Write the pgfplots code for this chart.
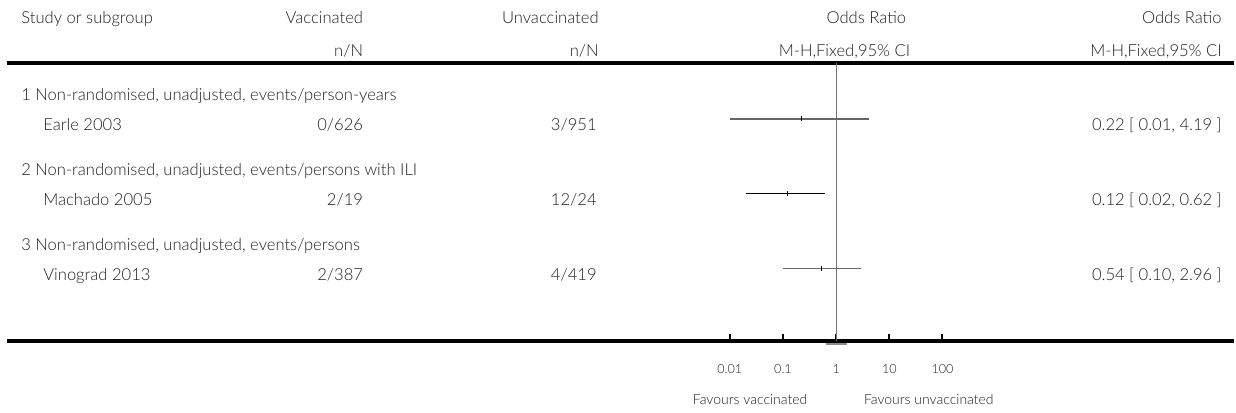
\documentclass[border=0pt]{standalone}
\usepackage{pgfplots}
\pgfplotsset{compat=1.18}
\usepackage{fontspec}
\setmainfont{Lato Light}
\newcommand\mainsz{\fontsize{8.3pt}{10pt}\selectfont}
\newcommand\ticksz{\fontsize{6.3pt}{8pt}\selectfont}
\newcommand\favsz{\fontsize{7pt}{8pt}\selectfont}
\definecolor{txt}{gray}{0.12}
\begin{document}
\begin{tikzpicture}
\begin{axis}[name=canvas, at={(0,0)}, anchor=south west,
  width=618pt, height=206.5pt, scale only axis,
  xmin=0, xmax=1236, ymin=0, ymax=413, y dir=reverse,
  hide axis, clip=false]
  \path (axis cs:0,0) rectangle (axis cs:1236,413);
  \addplot[black, line width=2pt] coordinates {(7,63) (1236,63)};
  \addplot[black, line width=2pt] coordinates {(7,342) (1236,342)};
  \addplot[black!45, line width=0.6pt] coordinates {(827,344.6) (848,344.6)};
  % headers
  \begin{scope}[every node/.style={font=\mainsz, text=txt, inner sep=0pt}]
  \node[anchor=base west] at (axis cs:21,24) {Study or subgroup};
  \node[anchor=base east] at (axis cs:364,24) {Vaccinated};
  \node[anchor=base east] at (axis cs:364,57) {n/N};
  \node[anchor=base east] at (axis cs:600,24) {Unvaccinated};
  \node[anchor=base east] at (axis cs:600,57) {n/N};
  \node[anchor=base east] at (axis cs:908,24) {Odds Ratio};
  \node[anchor=base east] at (axis cs:912,57) {M-H,Fixed,95\% CI};
  \node[anchor=base east] at (axis cs:1224,24) {Odds Ratio};
  \node[anchor=base east] at (axis cs:1224,57) {M-H,Fixed,95\% CI};
  % groups
  \node[anchor=base west] at (axis cs:21,101) {1 Non-randomised, unadjusted, events/person-years};
  \node[anchor=base west] at (axis cs:43,131) {Earle 2003};
  \node[anchor=base east] at (axis cs:364,131) {0/626};
  \node[anchor=base east] at (axis cs:598,131) {3/951};
  \node[anchor=base east] at (axis cs:1224,131) {0.22 [ 0.01, 4.19 ]};
  \node[anchor=base west] at (axis cs:21,176) {2 Non-randomised, unadjusted, events/persons with ILI};
  \node[anchor=base west] at (axis cs:43,206) {Machado 2005};
  \node[anchor=base east] at (axis cs:364,206) {2/19};
  \node[anchor=base east] at (axis cs:598,206) {12/24};
  \node[anchor=base east] at (axis cs:1224,206) {0.12 [ 0.02, 0.62 ]};
  \node[anchor=base west] at (axis cs:21,251) {3 Non-randomised, unadjusted, events/persons};
  \node[anchor=base west] at (axis cs:43,281) {Vinograd 2013};
  \node[anchor=base east] at (axis cs:364,281) {2/387};
  \node[anchor=base east] at (axis cs:598,281) {4/419};
  \node[anchor=base east] at (axis cs:1224,281) {0.54 [ 0.10, 2.96 ]};
  \end{scope}
  \node[anchor=base east, font=\favsz, text=txt, inner sep=0pt] at (axis cs:809,405) {Favours vaccinated};
  \node[anchor=base west, font=\favsz, text=txt, inner sep=0pt] at (axis cs:865,405) {Favours unvaccinated};
  \coordinate (fsw) at (axis cs:731,342);
\end{axis}
\begin{axis}[at={(fsw)}, anchor=south west,
  xmode=log, xmin=0.01, xmax=100, ymin=0, ymax=279,
  width=106.5pt, height=139.5pt, scale only axis,
  axis y line=none, axis x line=bottom,
  x axis line style={draw=none},
  xtick={0.01,0.1,1,10,100}, xticklabels={0.01,0.1,1,10,100},
  minor xtick={}, minor tick length=0pt, minor tick style={draw=none},
  tick align=inside, major tick length=3.5pt,
  tick style={black, line width=1pt},
  xticklabel style={font=\ticksz, text=txt, anchor=base, inner sep=0pt, yshift=-16pt},
  clip=false]
  \addplot[black!55, line width=0.5pt] coordinates {(1,0) (1,279)};
  % Earle 2003
  \addplot[black!60, line width=0.7pt] coordinates {(0.01,223) (4.19,223)};
  \addplot[only marks, mark=|, mark size=1.2pt, black, mark options={line width=0.5pt}] coordinates {(0.22,223)};
  % Machado 2005
  \addplot[black, line width=0.6pt] coordinates {(0.02,148) (0.62,148)};
  \addplot[only marks, mark=|, mark size=1.2pt, black, mark options={line width=0.5pt}] coordinates {(0.12,148)};
  % Vinograd 2013
  \addplot[black!60, line width=0.7pt] coordinates {(0.10,73) (2.96,73)};
  \addplot[only marks, mark=|, mark size=1.2pt, black, mark options={line width=0.5pt}] coordinates {(0.54,73)};
\end{axis}
\end{tikzpicture}
\end{document}
